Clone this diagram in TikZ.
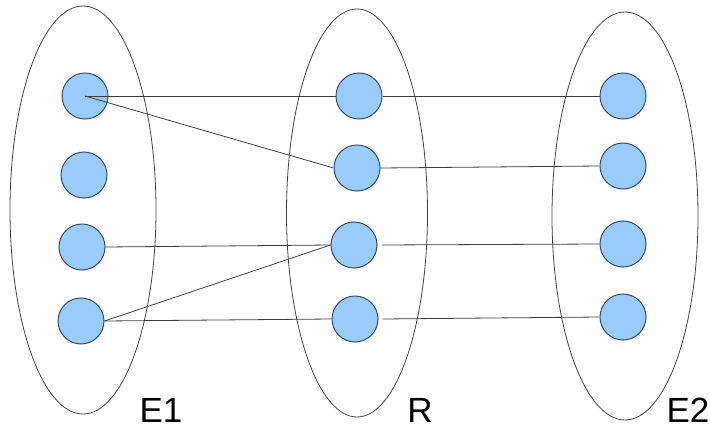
\documentclass[tikz,border=0pt]{standalone}
\usepackage{fontspec}
\setmainfont{Liberation Sans}
\usetikzlibrary{shapes.geometric}
\definecolor{dotfill}{RGB}{153,204,250}
\definecolor{dotline}{RGB}{55,75,95}
\definecolor{linegray}{RGB}{60,60,60}
\tikzset{
  setell/.style={ellipse, draw=black!75, line width=0.8pt, inner sep=0pt, minimum width=146pt, minimum height=408pt},
  dot/.style={circle, draw=dotline, fill=dotfill, line width=1pt, inner sep=0pt, minimum size=46pt},
  conn/.style={draw=linegray, line width=0.8pt},
  lbl/.style={font=\fontsize{35}{40}\selectfont, inner sep=0pt}
}
\begin{document}
\begin{tikzpicture}[x=1pt,y=-1pt]
\useasboundingbox (0,0) rectangle (710,431);
\node[setell] (E1) at (83,210) {};
\node[setell, minimum width=141pt] (R) at (357,213) {};
\node[setell] (E2) at (625,216) {};
% E1 dots
\node[dot] (a1) at (85,96) {};
\node[dot] (a2) at (84,175) {};
\node[dot] (a3) at (82,247) {};
\node[dot] (a4) at (81,321) {};
% R dots
\node[dot] (r1) at (359,96) {};
\node[dot] (r2) at (357,168) {};
\node[dot] (r3) at (354,245) {};
\node[dot] (r4) at (355,319) {};
% E2 dots
\node[dot] (b1) at (623,96) {};
\node[dot] (b2) at (623,166) {};
\node[dot] (b3) at (623,244) {};
\node[dot] (b4) at (623,317) {};
% connectors
\draw[conn] (a1.center) -- (r1.west);
\draw[conn] (a1.center) -- (r2.west);
\draw[conn] (a3.east) -- (r3.west);
\draw[conn] (a4.east) -- (r3.west);
\draw[conn] (a4.east) -- (r4.west);
\draw[conn] (r1.east) -- (b1.west);
\draw[conn] (r2.east) -- (b2.west);
\draw[conn] ([xshift=4pt]r3.east) -- (b3.west);
\draw[conn] ([xshift=4pt]r4.east) -- (b4.west);
% labels
\node[lbl] (t1) at (161,410) {E1};
\node[lbl] (t2) at (420,410) {R};
\node[lbl] (t3) at (688,410) {E2};
\end{tikzpicture}
\end{document}
